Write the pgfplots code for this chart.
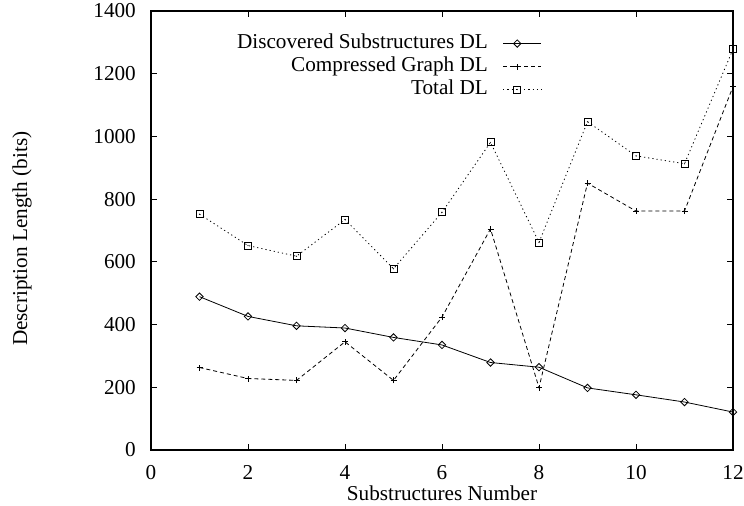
\documentclass[border=0pt]{standalone}
\usepackage{fontspec}
\setmainfont{Liberation Serif}
\usepackage{pgfplots}
\pgfplotsset{compat=1.18}
\pgfdeclareplotmark{gdiamond}{%
  \pgfpathmoveto{\pgfqpoint{\pgfplotmarksize}{0pt}}%
  \pgfpathlineto{\pgfqpoint{0pt}{\pgfplotmarksize}}%
  \pgfpathlineto{\pgfqpoint{-\pgfplotmarksize}{0pt}}%
  \pgfpathlineto{\pgfqpoint{0pt}{-\pgfplotmarksize}}%
  \pgfpathclose\pgfusepathqstroke}
\pgfdeclareplotmark{gplus}{%
  \pgfpathmoveto{\pgfqpoint{-\pgfplotmarksize}{0pt}}%
  \pgfpathlineto{\pgfqpoint{\pgfplotmarksize}{0pt}}%
  \pgfpathmoveto{\pgfqpoint{0pt}{-\pgfplotmarksize}}%
  \pgfpathlineto{\pgfqpoint{0pt}{\pgfplotmarksize}}%
  \pgfusepathqstroke}
\pgfdeclareplotmark{gsquare}{%
  \pgfpathrectangle{\pgfqpoint{-\pgfplotmarksize}{-\pgfplotmarksize}}{\pgfqpoint{2\pgfplotmarksize}{2\pgfplotmarksize}}%
  \pgfusepathqstroke
  \pgfpathcircle{\pgfpointorigin}{0.6pt}\pgfusepathqfill}
\begin{document}
\begin{tikzpicture}[font=\fontsize{21.2bp}{25bp}\selectfont]
\begin{axis}[
  at={(151bp,56bp)}, anchor=south west,
  scale only axis, width=582bp, height=439bp,
  xmin=0, xmax=12, ymin=0, ymax=1400,
  xtick={0,2,...,12}, ytick={0,200,...,1400},
  tick align=inside, major tick length=6bp,
  axis line style={line width=1.2bp},
  every tick/.style={line width=0.9bp, black},
  /pgf/number format/assume math mode=true,
  /pgf/number format/set thousands separator={},
  yticklabel style={inner xsep=0pt, xshift=-15bp},
  xticklabel style={inner ysep=0pt, yshift=-15bp},
  xlabel={Substructures Number},
  ylabel={Description Length (bits)},
  every axis x label/.style={at={(axis description cs:0.5,-0.098)}, anchor=center},
  every axis y label/.style={at={(axis description cs:-0.2216,0.481)}, anchor=center, rotate=90},
  legend plot pos=right,
  legend cell align=right,
  legend style={draw=none, fill=none, inner sep=0pt, outer sep=0pt,
    at={(axis description cs:0.6713,0.952)}, anchor=north east,
    column sep=15bp, row sep=0pt,
    nodes={inner xsep=0pt, inner ysep=1.5bp, text height=15bp, text depth=5bp}},
  legend image code/.code={%
    \draw[mark repeat=2,mark phase=2] plot coordinates {(0bp,0bp) (14bp,0bp) (38bp,0bp)};},
]
\addplot[black, line width=0.8bp, mark=gdiamond, mark size=3.7bp, mark options={solid}]
  coordinates {(1,489) (2,426) (3,396) (4,389) (5,359) (6,335) (7,279) (8,264) (9,198) (10,176) (11,153) (12,121)};
\addlegendentry{Discovered Substructures DL}
\addplot[black, line width=0.8bp, dash pattern=on 4bp off 3bp, mark=gplus, mark size=3bp, mark options={solid}]
  coordinates {(1,263) (2,228) (3,222) (4,345) (5,222) (6,424) (7,705) (8,199) (9,851) (10,762) (11,762) (12,1159)};
\addlegendentry{Compressed Graph DL}
\addplot[black, line width=0.8bp, dash pattern=on 1.2bp off 3bp, mark=gsquare, mark size=3.5bp, mark options={solid}]
  coordinates {(1,752) (2,652) (3,618) (4,735) (5,578) (6,758) (7,981) (8,662) (9,1047) (10,938) (11,913) (12,1278)};
\addlegendentry{Total DL}
\end{axis}
\pgfresetboundingbox
\useasboundingbox (0,0) rectangle (744bp,506bp);
\end{tikzpicture}
\end{document}
